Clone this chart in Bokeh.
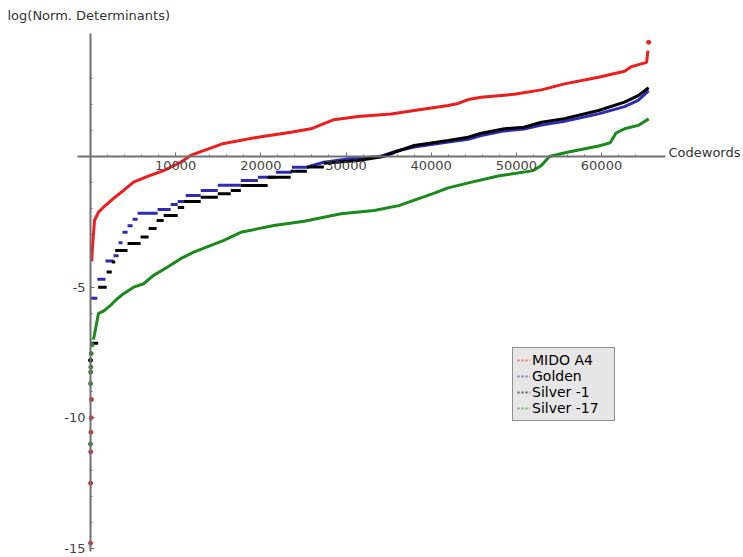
from bokeh.plotting import figure
from bokeh.models import (LinearAxis, FixedTicker, Range1d, Label, Legend, LegendItem)
from bokeh.embed import file_html
from bokeh.resources import INLINE

# ---------------- data ----------------
series_names = ["MIDO A4", "Golden", "Silver -1", "Silver -17"]

# MIDO A4 (red)
red_x = [150, 200, 318, 470, 940, 1530, 2700, 3880, 5060, 6700, 8590, 10590, 11760, 12700,
         15650, 19650, 23530, 25880, 27410, 28590, 31410, 35290, 38000, 42000, 43180, 44350,
         45880, 49760, 52940, 55650, 59650, 62700, 63530, 65290, 65450]
red_y = [-4.0, -3.6, -3.1, -2.45, -2.13, -1.94, -1.6, -1.3, -0.98, -0.76, -0.54, -0.22, 0.04, 0.16,
         0.5, 0.74, 0.93, 1.06, 1.26, 1.41, 1.53, 1.63, 1.76, 1.95, 2.03, 2.18,
         2.27, 2.38, 2.55, 2.78, 3.03, 3.26, 3.44, 3.6, 4.05]
red_pts_x = [5, 15, 30, 50, 80, 110, 65536]
red_pts_y = [-14.8, -12.5, -11.3, -10.55, -10.0, -9.3, 4.37]

# Golden (blue): flat runs, then a continuous part
blue_run_x0 = [0, 800, 1760, 2700, 3300, 3760, 4350, 4940, 5530, 7880, 9410, 10240, 11180,
               12940, 14940, 17650, 19650, 21760, 23650]
blue_run_x1 = [800, 1760, 2700, 3300, 3760, 4350, 4940, 5530, 7880, 9410, 10240, 11180, 12940,
               14940, 17650, 19650, 21760, 23650, 25650]
blue_run_y = [-5.42, -4.70, -4.0, -3.8, -3.3, -2.9, -2.65, -2.4, -2.17, -2.03, -1.84, -1.72, -1.49,
              -1.3, -1.1, -0.92, -0.79, -0.6, -0.41]
blue_x = [25650, 27410, 30000, 34000, 36050, 38000, 42000, 44350, 45880, 48600, 50900, 52940,
          55650, 59650, 62700, 64300, 65536]
blue_y = [-0.38, -0.22, -0.1, 0.0, 0.22, 0.36, 0.55, 0.66, 0.8, 0.98, 1.05, 1.2,
          1.35, 1.63, 1.91, 2.15, 2.52]

# Silver -1 (black)
black_run_x0 = [0, 900, 1900, 2500, 2900, 4350, 5880, 6820, 7760, 8590, 10240, 11000, 12940,
                14940, 16470, 17650, 20800, 23500, 25400]
black_run_x1 = [900, 1900, 2500, 2900, 4350, 5880, 6820, 7760, 8590, 10240, 11000, 12940, 14940,
                16470, 17650, 20800, 23500, 25400, 27400]
black_run_y = [-7.15, -5.0, -4.42, -4.04, -3.6, -3.33, -3.08, -2.76, -2.45, -2.26, -1.95, -1.72,
               -1.56, -1.43, -1.3, -1.11, -0.79, -0.56, -0.4]
black_pts_x = [0]
black_pts_y = [-7.8]
black_x = [27400, 31400, 34400, 36050, 38000, 42000, 44350, 45880, 48600, 50900, 52940, 55650,
           59650, 62700, 64300, 65536]
black_y = [-0.26, -0.15, 0.0, 0.2, 0.42, 0.61, 0.74, 0.89, 1.06, 1.12, 1.31, 1.45,
           1.76, 2.08, 2.33, 2.63]

# Silver -17 (green)
green_pts_x = [2, 10, 20, 40, 80, 200]
green_pts_y = [-11.0, -8.69, -8.25, -8.06, -7.54, -7.2]
green_x = [350, 590, 940, 1530, 2350, 2940, 3880, 5060, 6230, 7410, 9060, 10590, 12120, 15650,
           17650, 21530, 25100, 29410, 33290, 36200, 40200, 42000, 44500, 48000, 52000, 52940,
           53880, 55990, 59650, 61000, 61700, 62700, 64300, 65536]
green_y = [-7.0, -6.6, -6.0, -5.92, -5.7, -5.5, -5.25, -5.0, -4.87, -4.55, -4.23, -3.91, -3.66, -3.21,
           -2.9, -2.64, -2.48, -2.19, -2.07, -1.88, -1.42, -1.2, -1.0, -0.74, -0.54, -0.34,
           0.0, 0.16, 0.4, 0.52, 0.9, 1.06, 1.19, 1.44]

x_major = [10000, 20000, 30000, 40000, 50000, 60000]
x_minor = list(range(2000, 66000, 2000))
y_major = [-15, -10, -5]
y_minor = [v for v in range(-15, 4) if v % 5 != 0]

RED, BLUE, BLACK, GREEN = "#ee1c1c", "#2b2bb5", "#000000", "#1a8a1a"
FONT = "DejaVu Sans"

# ---------------- figure ----------------
p = figure(width=743, height=557, output_backend="svg", toolbar_location=None,
           x_range=Range1d(-10567, 76670), y_range=Range1d(-15.346, 5.970),
           x_axis_location=None, y_axis_location=None, min_border=0,
           outline_line_color=None)
p.xgrid.grid_line_color = None
p.ygrid.grid_line_color = None

AX = "#707070"
xaxis = LinearAxis(fixed_location=0, ticker=FixedTicker(ticks=x_major, minor_ticks=x_minor),
                   bounds=(-1500, 67500))
yaxis = LinearAxis(fixed_location=0, ticker=FixedTicker(ticks=y_major, minor_ticks=y_minor),
                   bounds=(-15.1, 4.72))
for ax in (xaxis, yaxis):
    ax.axis_line_color = AX
    ax.axis_line_width = 2
    ax.major_tick_line_color = AX
    ax.minor_tick_line_color = AX
    ax.major_tick_in = 4
    ax.major_tick_out = 0
    ax.minor_tick_in = 2
    ax.minor_tick_out = 0
    ax.major_label_text_font = FONT
    ax.major_label_text_font_size = "13px"
    ax.major_label_text_color = "#444444"
    ax.major_label_standoff = 5
xaxis.major_label_overrides = {v: str(v) for v in x_major}
yaxis.major_label_overrides = {v: str(v) for v in y_major}
p.add_layout(xaxis, "below")
p.add_layout(yaxis, "left")

LW = 3
# red
p.line(red_x, red_y, line_color=RED, line_width=LW)
p.scatter(red_pts_x, red_pts_y, size=4, color=RED)
# blue
p.segment(x0=blue_run_x0, y0=blue_run_y, x1=blue_run_x1, y1=blue_run_y,
          line_color=BLUE, line_width=LW, line_cap="butt")
p.line(blue_x, blue_y, line_color=BLUE, line_width=LW)
# black
p.segment(x0=black_run_x0, y0=black_run_y, x1=black_run_x1, y1=black_run_y,
          line_color=BLACK, line_width=LW, line_cap="butt")
p.line(black_x, black_y, line_color=BLACK, line_width=LW)
p.scatter(black_pts_x, black_pts_y, size=4, color=BLACK)
# green
p.line(green_x, green_y, line_color=GREEN, line_width=LW)
p.scatter(green_pts_x, green_pts_y, size=4, color=GREEN)

# legend proxies (kept outside the visible range; only their faint dotted glyph is shown)
items = []
for name, col in zip(series_names, [RED, BLUE, BLACK, GREEN]):
    r = p.line(x=[0, 1], y=[-40.0, -40.0], line_color=col, line_width=1.8,
               line_dash="2 2", line_alpha=0.6)
    items.append(LegendItem(label=name, renderers=[r]))
legend = Legend(items=items, location=(512, 136), orientation="vertical",
                background_fill_color="#e6e6e6", background_fill_alpha=1.0,
                border_line_color="#333333", border_line_width=1.5,
                label_text_font=FONT, label_text_font_size="14px", label_text_color="#000000",
                label_text_line_height=1.0,
                glyph_width=13, glyph_height=16, label_height=16, label_width=78,
                label_standoff=2, spacing=0, padding=4, margin=0)
p.add_layout(legend, "center")

p.add_layout(Label(x=7, y=542, x_units="screen", y_units="screen",
                   text="log(Norm. Determinants)", text_font=FONT, text_font_size="13px",
                   text_color="#333333", text_baseline="middle", text_align="left"))
p.add_layout(Label(x=668, y=405, x_units="screen", y_units="screen",
                   text="Codewords", text_font=FONT, text_font_size="13px",
                   text_color="#333333", text_baseline="middle", text_align="left"))

open("out.html", "w").write(file_html(p, INLINE))
